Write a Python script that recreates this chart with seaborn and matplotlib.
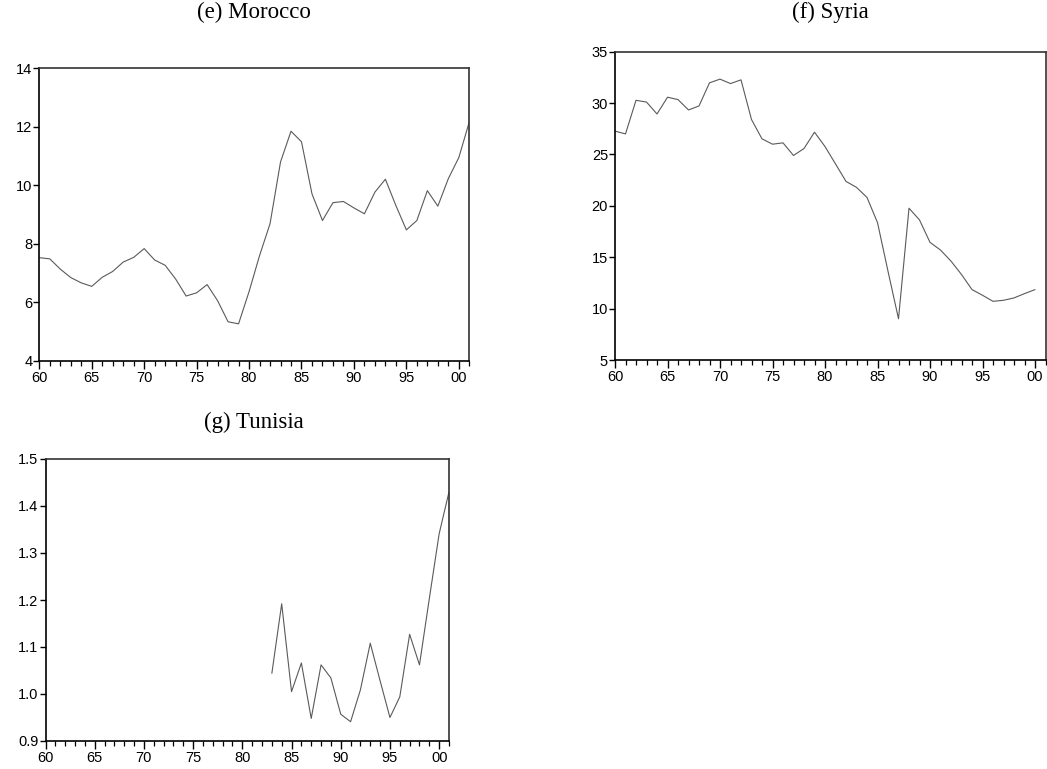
import matplotlib
matplotlib.use("Agg")
import matplotlib.pyplot as plt
import seaborn as sns
import pandas as pd
from matplotlib.ticker import FixedLocator, MultipleLocator

sns.set_style("ticks")
plt.rcParams['font.family'] = ['Liberation Sans', 'DejaVu Sans']

# ---------------- data ----------------
morocco_years = list(range(1960, 2002))
morocco_values = [7.53, 7.49, 7.14, 6.85, 6.67, 6.55, 6.86, 7.06, 7.38, 7.54,
                  7.84, 7.45, 7.27, 6.80, 6.22, 6.33, 6.61, 6.06, 5.34, 5.27,
                  6.37, 7.60, 8.69, 10.80, 11.85, 11.49, 9.71, 8.80, 9.41, 9.45,
                  9.23, 9.03, 9.77, 10.21, 9.31, 8.48, 8.80, 9.82, 9.29, 10.23,
                  10.95, 12.17]

syria_years = list(range(1960, 2001))
syria_values = [27.27, 27.00, 30.27, 30.10, 28.94, 30.57, 30.34, 29.33, 29.72, 31.97,
                32.33, 31.90, 32.26, 28.40, 26.52, 26.00, 26.13, 24.90, 25.58, 27.17,
                25.77, 24.08, 22.38, 21.80, 20.82, 18.37, 13.64, 9.01, 19.77, 18.63,
                16.45, 15.70, 14.62, 13.32, 11.85, 11.30, 10.71, 10.81, 11.04, 11.46,
                11.85]

tunisia_years = list(range(1983, 2002))
tunisia_values = [1.044, 1.192, 1.005, 1.066, 0.948, 1.062, 1.034, 0.957, 0.941, 1.009,
                  1.108, 1.028, 0.950, 0.994, 1.127, 1.062, 1.203, 1.341, 1.430]

x_tick_years = [1960, 1965, 1970, 1975, 1980, 1985, 1990, 1995, 2000]
x_tick_labels = ["60", "65", "70", "75", "80", "85", "90", "95", "00"]

titles = ["(e) Morocco", "(f) Syria", "(g) Tunisia"]

morocco_yticks = [4, 6, 8, 10, 12, 14]
syria_yticks = [5, 10, 15, 20, 25, 30, 35]
tunisia_yticks = [0.9, 1.0, 1.1, 1.2, 1.3, 1.4, 1.5]
tunisia_ylabels = ["0.9", "1.0", "1.1", "1.2", "1.3", "1.4", "1.5"]

# ---------------- figure ----------------
W, H = 1047, 769
fig = plt.figure(figsize=(W / 100, H / 100), dpi=100)
fig.patch.set_facecolor("white")


def px_axes(left, top, right, bottom):
    return fig.add_axes([left / W, 1 - bottom / H, (right - left) / W, (bottom - top) / H])


ax_m = px_axes(39.3, 68.3, 469.3, 361)
ax_s = px_axes(615, 51.7, 1045.5, 360)
ax_t = px_axes(45.5, 459, 449, 741)

panels = [
    (ax_m, morocco_years, morocco_values, morocco_yticks, None, (4, 14)),
    (ax_s, syria_years, syria_values, syria_yticks, None, (5, 35)),
    (ax_t, tunisia_years, tunisia_values, tunisia_yticks, tunisia_ylabels, (0.9, 1.5)),
]

for ax, yrs, vals, yt, yl, ylim in panels:
    df = pd.DataFrame({"x": [y - 1900 for y in yrs], "v": vals})
    sns.lineplot(data=df, x="x", y="v", ax=ax, color="#5a5a5a", linewidth=0.8)
    ax.set_xlim(60, 101)
    ax.set_ylim(*ylim)
    ax.set_xlabel("")
    ax.set_ylabel("")
    ax.xaxis.set_major_locator(FixedLocator([y - 1900 for y in x_tick_years]))
    ax.set_xticklabels(x_tick_labels)
    ax.xaxis.set_minor_locator(MultipleLocator(1))
    ax.set_yticks(yt)
    if yl is not None:
        ax.set_yticklabels(yl)
    ax.tick_params(axis="x", which="major", direction="out", length=6, width=1.0,
                   pad=1, labelsize=10.5, colors="black")
    ax.tick_params(axis="x", which="minor", direction="out", length=3.5, width=0.9,
                   colors="black")
    ax.tick_params(axis="y", which="major", direction="out", length=4, width=1.0,
                   pad=1, labelsize=10.5, colors="black")
    for side in ["left", "bottom"]:
        ax.spines[side].set_color("black")
        ax.spines[side].set_linewidth(1.2)
    for side in ["top", "right"]:
        ax.spines[side].set_color("#333333")
        ax.spines[side].set_linewidth(1.2)
    ax.grid(False)
    ax.set_facecolor("white")

title_kw = dict(family=["Liberation Serif", "DejaVu Serif"], fontsize=16.5,
                ha="center", va="center", color="black")
fig.text(254 / W, 1 - 12 / H, titles[0], **title_kw)
fig.text(830 / W, 1 - 12 / H, titles[1], **title_kw)
fig.text(254 / W, 1 - 422 / H, titles[2], **title_kw)

fig.savefig("out.png", dpi=100, facecolor="white")
